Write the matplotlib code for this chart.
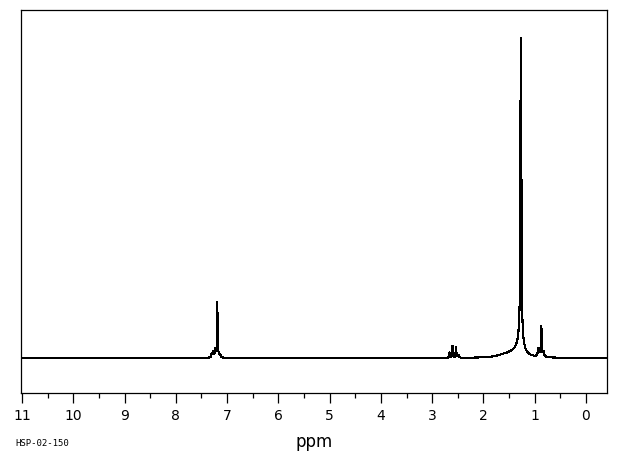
import numpy as np
import matplotlib
matplotlib.use("Agg")
import matplotlib.pyplot as plt

plt.rcParams["path.simplify"] = False

# Peak list (ppm, relative height, line width in ppm)
peak_ppm    = [7.300, 7.270, 7.230, 7.190, 7.190, 7.140,
               2.660, 2.605, 2.535, 2.490,
               1.600, 1.450, 1.300, 1.270, 1.281, 1.262,
               0.925, 0.875, 0.870, 0.830]
peak_height = [1.2, 1.8, 2.2, 3.0, 14.5, 0.8,
               1.6, 3.8, 3.4, 0.8,
               0.8, 0.7, 3.0, 20.0, 59.0, 78.0,
               2.5, 2.0, 7.5, 1.5]
peak_width  = [0.02, 0.02, 0.02, 0.04, 0.008, 0.03,
               0.015, 0.015, 0.015, 0.02,
               0.35, 0.20, 0.20, 0.05, 0.006, 0.006,
               0.03, 0.04, 0.008, 0.03]

major_ticks = list(range(0, 12))
tick_labels = [str(t) for t in major_ticks]
code_label = "HSP-02-150"

ppm = np.arange(-0.404, 11.03, 0.001)
spec = np.zeros_like(ppm)
for p0, h, w in zip(peak_ppm, peak_height, peak_width):
    spec += h / (1.0 + ((ppm - p0) / (w / 2.0)) ** 2)

fig = plt.figure(figsize=(6.2, 4.55), dpi=100)
ax = fig.add_axes([20.7 / 620, (455 - 393) / 455, (606.7 - 20.7) / 620, (393 - 10) / 455])
ax.plot(ppm, spec, color="black", lw=0.8, antialiased=False)
ax.set_xlim(11.025, -0.404)
ax.set_ylim(-11.0, 109.4)

for s in ax.spines.values():
    s.set_linewidth(0.9)
    s.set_color("black")

ax.set_yticks([])
ax.set_xticks(major_ticks)
ax.set_xticklabels(tick_labels, fontsize=10)
ax.set_xticks(np.arange(0.5, 11, 1.0), minor=True)
ax.tick_params(axis="x", which="major", direction="out", length=7.2, width=0.9, pad=4.5)
ax.tick_params(axis="x", which="minor", direction="out", length=3.6, width=0.9)

ax.set_xlabel("ppm", fontsize=12, va="center")
ax.xaxis.set_label_coords(0.5, (393 - 442) / 383)

fig.text(15 / 620, 1 - 443 / 455, code_label, fontsize=6.5,
         family="DejaVu Sans Mono", va="center", ha="left")

fig.savefig("out.png", dpi=100)
